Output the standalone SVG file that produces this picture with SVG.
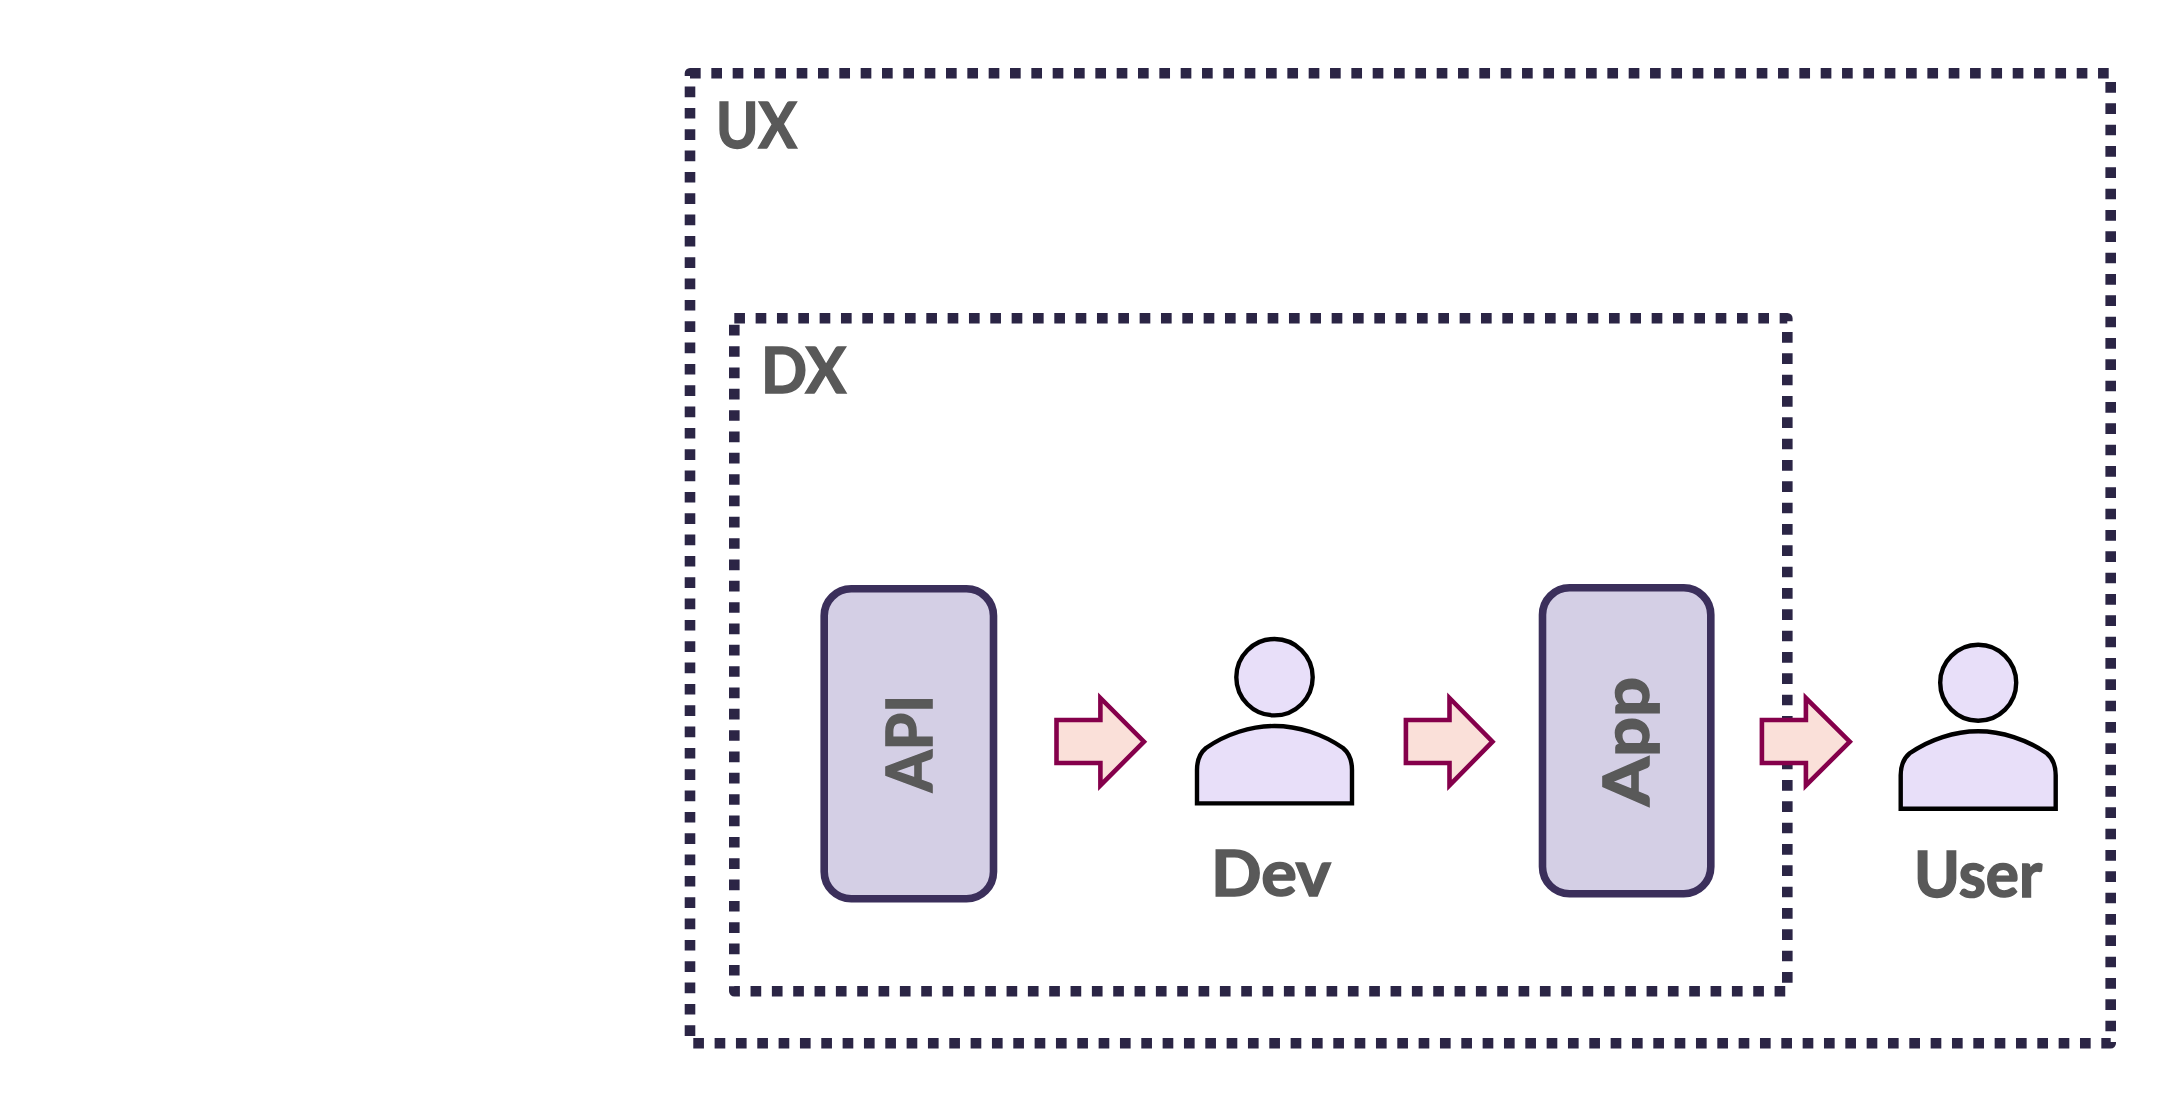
<svg xmlns="http://www.w3.org/2000/svg" width="2178" height="1106" viewBox="0 0 2178 1106">
<style>
.zone{fill:none;stroke:#2b2545;stroke-width:10.6;stroke-dasharray:10.667 10.667;stroke-linejoin:round}
.box{fill:#d4cfe5;stroke:#3b2f5b;stroke-width:7.6}
.person{fill:#e8dff9;stroke:#000;stroke-width:4.4}
.arrow{fill:#fae0d9;stroke:#85004b;stroke-width:4.6;stroke-miterlimit:10}
.label{font-family:"Lato","Liberation Sans",sans-serif;font-weight:700;font-size:64px;fill:#595959;stroke:#595959;stroke-width:1.6}
</style>
<rect width="2178" height="1106" fill="#fff"/>
<g id="zone-ux">
<path class="zone" d="M690 73.3H2110.7V1043.3H690Z"/>
<text class="label" x="716" y="148.3" textLength="81" lengthAdjust="spacingAndGlyphs">UX</text>
</g>
<g id="zone-dx">
<path class="zone" d="M734.3 318.3H1787.3V991.3H734.3Z"/>
<text class="label" x="761" y="392.7" textLength="85" lengthAdjust="spacingAndGlyphs">DX</text>
</g>
<g id="node-api">
<rect class="box" x="824.2" y="588.8" width="169.3" height="310" rx="27"/>
<text class="label" transform="translate(932 792) rotate(-90)" textLength="97" lengthAdjust="spacingAndGlyphs">API</text>
</g>
<g id="node-dev">
<circle class="person" cx="1274.5" cy="677.2" r="38.2"/>
<path class="person" d="M1197 803.4V770C1197 759 1200 753 1206 748C1226 734 1251 726 1274.500 726C1298 726 1323 734 1343 748C1349 753 1352 759 1352 770V803.400Z"/>
<text class="label" x="1211" y="896" textLength="120" lengthAdjust="spacingAndGlyphs">Dev</text>
</g>
<g id="node-app">
<rect class="box" x="1542.5" y="587.8" width="168.3" height="306" rx="27"/>
<text class="label" transform="translate(1649.3 806) rotate(-90)" textLength="129" lengthAdjust="spacingAndGlyphs">App</text>
</g>
<g id="node-user">
<circle class="person" cx="1978.2" cy="682.7" r="38"/>
<path class="person" d="M1900.7 808.700V775.300C1900.700 764.300 1903.700 758.300 1909.700 753.300C1929.700 739.300 1954.700 731.300 1978.200 731.300C2001.700 731.300 2026.700 739.300 2046.700 753.300C2052.700 758.300 2055.700 764.300 2055.700 775.300V808.700Z"/>
<text class="label" x="1914" y="896.700" textLength="128" lengthAdjust="spacingAndGlyphs">User</text>
</g>
<g id="connectors">
<path class="arrow" d="M1056.500 720H1100.400V698L1144 741.700L1100.400 785.400V763H1056.500Z"/>
<path class="arrow" d="M1405.900 720H1449.500V698L1492.500 741.700L1449.500 785.400V763H1405.900Z"/>
<path class="arrow" d="M1761.900 720H1805.900V698L1849.800 741.700L1805.900 785.400V763H1761.900Z"/>
</g>
</svg>
